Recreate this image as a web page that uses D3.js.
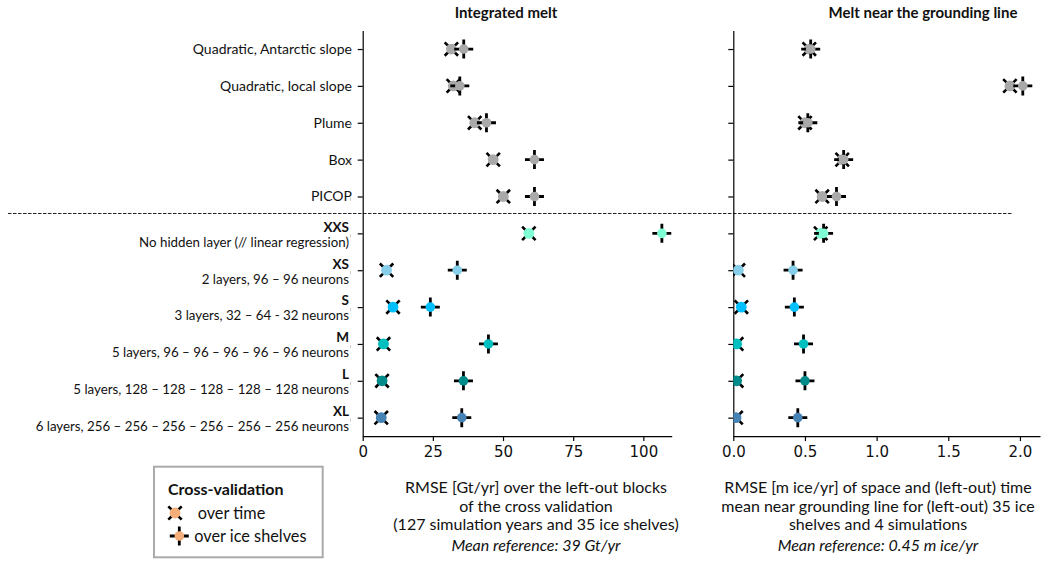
<!DOCTYPE html>
<html>
<head>
<meta charset="utf-8">
<script src="https://cdn.jsdelivr.net/npm/d3@7"></script>
<style>
  body { margin: 0; background: #fff; }
  svg { display: block; }
  .lbl { font-family: Lato, sans-serif; fill: #111; }
  .tick text { font-family: "DejaVu Sans", sans-serif; font-size: 15px; fill: #111; }
</style>
</head>
<body>
<div id="draw-space"></div>
<script>
// rows, top to bottom
const rowNames = ['Quadratic, Antarctic slope', 'Quadratic, local slope', 'Plume', 'Box', 'PICOP',
                  'XXS', 'XS', 'S', 'M', 'L', 'XL'];
const rowNotes = ['', '', '', '', '',
                  'No hidden layer (// linear regression)',
                  '2 layers, 96 – 96 neurons',
                  '3 layers, 32 – 64 - 32 neurons',
                  '5 layers, 96 – 96 – 96 – 96 – 96 neurons',
                  '5 layers, 128 – 128 – 128 – 128 – 128 neurons',
                  '6 layers, 256 – 256 – 256 – 256 – 256 – 256 neurons'];
const rowColors = ['#a9a9a9', '#a9a9a9', '#a9a9a9', '#a9a9a9', '#a9a9a9',
                   '#7fffd4', '#87ceeb', '#00bfff', '#00bfbf', '#008b8b', '#4682b4'];

// RMSE values
const integratedTime    = [31.6, 32.3, 39.9, 46.5, 50.1, 59.2, 8.5, 10.8, 7.4, 6.9, 6.6];
const integratedShelves = [36.0, 34.6, 44.1, 61.2, 61.2, 106.6, 33.7, 24.1, 44.8, 35.9, 35.3];
const groundingTime     = [0.53, 1.93, 0.50, 0.76, 0.62, 0.61, 0.035, 0.056, 0.023, 0.023, 0.019];
const groundingShelves  = [0.54, 2.02, 0.52, 0.77, 0.72, 0.63, 0.417, 0.426, 0.49, 0.50, 0.45];

const leftTicks = [0, 25, 50, 75, 100];
const rightTicks = [0, 0.5, 1.0, 1.5, 2.0];

const W = 1042, H = 568;
const svg = d3.select('#draw-space').append('svg')
              .attr('width', W).attr('height', H);

const y = d3.scaleLinear().domain([-0.5, 10.5]).range([30.6, 436.1]);

const panels = [
  {id: 'left', x0: 362.7, x1: 671.7, max: 110.1, ticks: leftTicks, fmt: d3.format('d'),
   time: integratedTime, shelves: integratedShelves,
   title: 'Integrated melt', titleX: 506,
   xlabel: ['RMSE [Gt/yr] over the left-out blocks', 'of the cross validation',
            '(127 simulation years and 35 ice shelves)'],
   labelX: 536, mean: 'Mean reference: 39 Gt/yr'},
  {id: 'right', x0: 733.3, x1: 1040, max: 2.14, ticks: rightTicks, fmt: d3.format('.1f'),
   time: groundingTime, shelves: groundingShelves,
   title: 'Melt near the grounding line', titleX: 923,
   xlabel: ['RMSE [m ice/yr] of space and (left-out) time',
            'mean near grounding line for (left-out) 35 ice', 'shelves and 4 simulations'],
   labelX: 878, mean: 'Mean reference: 0.45 m ice/yr'}
];

const xPath = 'M-6.7,-6.7L6.7,6.7M-6.7,6.7L6.7,-6.7';
const plusPath = 'M-9.5,0H9.5M0,-9.5V9.5';

// separator between physical and neural network rows
const sepY = Math.round(y(4.45)) + 0.5;
svg.append('line')
   .attr('x1', 8).attr('x2', 1013)
   .attr('y1', sepY).attr('y2', sepY)
   .attr('stroke', '#222').attr('stroke-width', 1)
   .attr('stroke-dasharray', '3.5,1.5');

panels.forEach(p => {
  const x = d3.scaleLinear().domain([0, p.max]).range([p.x0, p.x1]);

  svg.append('clipPath').attr('id', 'clip-' + p.id)
     .append('rect')
     .attr('x', p.x0).attr('y', y(-0.5))
     .attr('width', p.x1 - p.x0).attr('height', y(10.5) - y(-0.5));

  const xAxis = svg.append('g')
                   .attr('transform', `translate(0,${y(10.5)})`)
                   .call(d3.axisBottom(x).tickValues(p.ticks).tickFormat(p.fmt)
                           .tickSize(5).tickSizeOuter(0).tickPadding(5));
  const yAxis = svg.append('g')
                   .attr('transform', `translate(${p.x0},0)`)
                   .call(d3.axisLeft(y).tickValues(d3.range(11)).tickFormat('')
                           .tickSize(5).tickSizeOuter(0));
  [xAxis, yAxis].forEach(a => {
    a.select('.domain').attr('stroke', '#000').attr('stroke-width', 1.2);
    a.selectAll('.tick line').attr('stroke', '#000').attr('stroke-width', 1.2);
  });

  const marks = svg.append('g').attr('clip-path', `url(#clip-${p.id})`);

  const tm = marks.selectAll('.time-mark')
                  .data(p.time)
                  .enter()
                  .append('g')
                  .attr('class', 'time-mark')
                  .attr('transform', (d, i) => `translate(${x(d)},${y(i)})`);
  tm.append('path').attr('d', xPath)
    .attr('stroke', '#000').attr('stroke-width', 2.6).attr('fill', 'none');
  tm.append('circle').attr('r', 5.4)
    .attr('fill', (d, i) => rowColors[i]);

  const sm = marks.selectAll('.shelf-mark')
                  .data(p.shelves)
                  .enter()
                  .append('g')
                  .attr('class', 'shelf-mark')
                  .attr('transform', (d, i) => `translate(${x(d)},${y(i)})`);
  sm.append('path').attr('d', plusPath)
    .attr('stroke', '#000').attr('stroke-width', 2.8).attr('fill', 'none');
  sm.append('circle').attr('r', 4.8)
    .attr('fill', (d, i) => rowColors[i]);

  svg.append('text')
     .attr('class', 'lbl')
     .attr('x', p.titleX).attr('y', 18)
     .attr('text-anchor', 'middle')
     .attr('font-weight', 'bold')
     .attr('font-size', 15)
     .text(p.title);

  const lineY = [493, 511.8, 530.3];
  p.xlabel.forEach((t, i) => {
    svg.append('text')
       .attr('class', 'lbl')
       .attr('x', p.labelX).attr('y', lineY[i])
       .attr('text-anchor', 'middle')
       .attr('font-size', 16)
       .text(t);
  });
  svg.append('text')
     .attr('class', 'lbl')
     .attr('x', p.labelX).attr('y', 551)
     .attr('text-anchor', 'middle')
     .attr('font-style', 'italic')
     .attr('font-size', 16)
     .text(p.mean);
});

// row labels
rowNames.forEach((name, i) => {
  if (rowNotes[i] === '') {
    svg.append('text')
       .attr('class', 'lbl')
       .attr('x', 352).attr('y', y(i))
       .attr('dy', '0.35em')
       .attr('text-anchor', 'end')
       .attr('font-size', 14)
       .text(name);
  } else {
    svg.append('text')
       .attr('class', 'lbl')
       .attr('x', 349).attr('y', y(i) - 1.7)
       .attr('text-anchor', 'end')
       .attr('font-weight', 'bold')
       .attr('font-size', 13.5)
       .text(name);
    svg.append('text')
       .attr('class', 'lbl')
       .attr('x', 349).attr('y', y(i) + 13.3)
       .attr('text-anchor', 'end')
       .attr('font-size', 13.3)
       .text(rowNotes[i]);
  }
  if (i > 1) {
    svg.append('line')
       .attr('x1', 350.5).attr('x2', 350.5)
       .attr('y1', y(i) + 1).attr('y2', y(i) + 4)
       .attr('stroke', '#bbb').attr('stroke-width', 0.8);
  }
});

// legend
const legend = svg.append('g');
legend.append('rect')
      .attr('x', 154).attr('y', 466.7)
      .attr('width', 168.7).attr('height', 90.6)
      .attr('fill', '#fff').attr('stroke', '#aaa').attr('stroke-width', 2);
legend.append('text')
      .attr('class', 'lbl')
      .attr('x', 168).attr('y', 495)
      .attr('font-weight', 'bold').attr('font-size', 16)
      .text('Cross-validation');
const legendColor = '#f5ad7a';
const lt = legend.append('g').attr('transform', 'translate(175,513)');
lt.append('path').attr('d', xPath).attr('stroke', '#000').attr('stroke-width', 2.6);
lt.append('circle').attr('r', 5.4).attr('fill', legendColor);
const ls = legend.append('g').attr('transform', 'translate(179.3,536)');
ls.append('path').attr('d', plusPath).attr('stroke', '#000').attr('stroke-width', 2.8);
ls.append('circle').attr('r', 4.8).attr('fill', legendColor);
legend.append('text')
      .attr('class', 'lbl')
      .attr('x', 197.7).attr('y', 513).attr('dy', '0.35em')
      .attr('font-size', 16.3)
      .text('over time');
legend.append('text')
      .attr('class', 'lbl')
      .attr('x', 194.3).attr('y', 536).attr('dy', '0.35em')
      .attr('font-size', 16.3)
      .text('over ice shelves');
</script>
</body>
</html>
